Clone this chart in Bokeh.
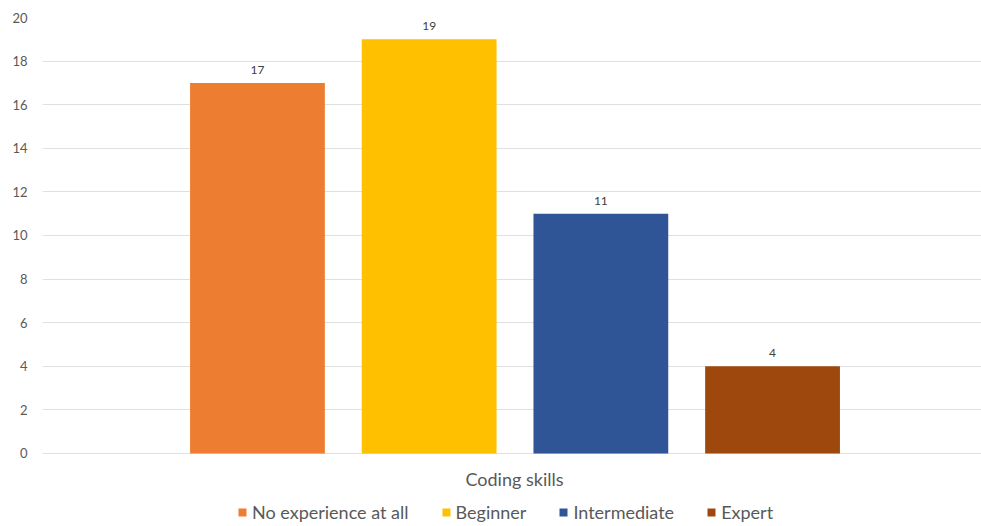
from bokeh.plotting import figure
from bokeh.models import ColumnDataSource, Range1d, Legend, LegendItem, FixedTicker, LabelSet, Label
from bokeh.core.properties import value
from bokeh.embed import file_html
from bokeh.resources import INLINE

# Survey: self-rated coding skills
levels = ["No experience at all", "Beginner", "Intermediate", "Expert"]
counts = [17, 19, 11, 4]
colors = ["#ED7D31", "#FFC000", "#2F5597", "#9E480E"]
y_ticks = [0, 2, 4, 6, 8, 10, 12, 14, 16, 18, 20]
category_label = "Coding skills"

FONT = "Lato"
TEXT_GREY = "#595959"

src = ColumnDataSource(dict(
    x=list(range(len(levels))),
    level=levels,
    count=counts,
    color=colors,
    label=[str(c) for c in counts],
))

# The frame runs down to the bottom edge; the space under zero holds the
# category name and the legend.
p = figure(
    width=981, height=526,
    output_backend="svg", toolbar_location=None,
    x_range=Range1d(-1.252, 4.217), y_range=Range1d(-3.349, 20),
    x_axis_location=None,
    min_border_left=42, min_border_right=0, min_border_top=17, min_border_bottom=0,
)
p.outline_line_color = None
p.background_fill_color = "white"
p.border_fill_color = "white"

bars = p.vbar(x="x", top="count", width=0.785, bottom=0, source=src,
              fill_color="color", line_color=None)

labels = LabelSet(x="x", y="count", text="label", source=src,
                  text_align="center", text_baseline="bottom", y_offset=9,
                  text_font=value(FONT), text_font_size="12px", text_color="#404040")
p.add_layout(labels)

# y axis: bare tick labels with light horizontal gridlines
p.yaxis.ticker = FixedTicker(ticks=y_ticks)
p.yaxis.axis_line_color = None
p.yaxis.major_tick_line_color = None
p.yaxis.minor_tick_line_color = None
p.yaxis.major_tick_out = 0
p.yaxis.major_tick_in = 0
p.yaxis.minor_tick_out = 0
p.yaxis.major_label_standoff = 15
p.yaxis.major_label_text_font = FONT
p.yaxis.major_label_text_font_size = "13px"
p.yaxis.major_label_text_color = TEXT_GREY
p.ygrid.ticker = FixedTicker(ticks=y_ticks)
p.ygrid.grid_line_color = "#E0E0E0"
p.ygrid.grid_line_width = 1
p.xgrid.grid_line_color = None

# category name under the bars
p.add_layout(Label(x=1.497, y=-1.15, text=category_label,
                   text_align="center", text_baseline="middle",
                   text_font=FONT, text_font_size="18px", text_color=TEXT_GREY))

legend = Legend(
    items=[LegendItem(label=lv, renderers=[bars], index=i) for i, lv in enumerate(levels)],
    orientation="horizontal", location=(195, 3),
    label_text_font=FONT, label_text_font_size="18px", label_text_color=TEXT_GREY,
    glyph_width=10, glyph_height=10, label_standoff=5, spacing=32,
    border_line_color=None, background_fill_alpha=0,
    padding=2, margin=0,
)
p.add_layout(legend)

open("out.html", "w").write(file_html(p, INLINE))
